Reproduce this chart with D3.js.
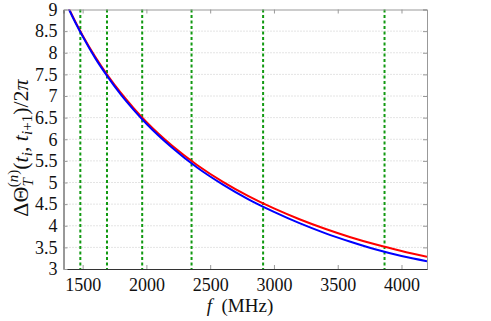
<!DOCTYPE html>
<html>
<head>
<meta charset="utf-8">
<script src="https://cdn.jsdelivr.net/npm/d3@7"></script>
<style>
  body { margin: 0; background: #fff; }
  text { font-family: Liberation Serif, Times New Roman, DejaVu Serif, serif; }
  .grid line { stroke: #c8c8c8; stroke-dasharray: 1,2; }
</style>
</head>
<body>
<svg id="chart"></svg>
<script>
// frequencies (MHz) sampled along the curves
var freqs = [1380, 1400, 1500, 1600, 1700, 1800, 1900, 2000, 2200, 2400, 2600, 2800, 3000, 3200, 3400, 3600, 3800, 4000, 4200];
var redVals = [9.10, 8.975, 8.40, 7.90, 7.46, 7.07, 6.72, 6.40, 5.855, 5.40, 5.015, 4.685, 4.40, 4.15, 3.93, 3.735, 3.565, 3.415, 3.28];
var blueVals = [9.09, 8.96, 8.38, 7.87, 7.43, 7.03, 6.68, 6.36, 5.81, 5.34, 4.95, 4.61, 4.32, 4.06, 3.83, 3.63, 3.45, 3.30, 3.18];
// vertical markers (MHz)
var markers = [1482, 1691, 1967, 2354, 2915, 3867];
var xTicks = [1500, 2000, 2500, 3000, 3500, 4000];
var yTicks = [3, 3.5, 4, 4.5, 5, 5.5, 6, 6.5, 7, 7.5, 8, 8.5, 9];

var W = 491, H = 321;
var margin = {top: 9.5, right: 64, bottom: 52, left: 63.5},
    width = W - margin.left - margin.right,
    height = H - margin.top - margin.bottom;

var svg = d3.select("#chart").attr("width", W).attr("height", H);

var x = d3.scaleLinear().domain([1350, 4200]).range([0, width]);
var y = d3.scaleLinear().domain([3, 9]).range([height, 0]);

var g = svg.append("g")
    .attr("transform", "translate(" + margin.left + "," + margin.top + ")");

g.append("clipPath").attr("id", "clip")
  .append("rect").attr("width", width).attr("height", height);

// horizontal grid
g.append("g").attr("class", "grid")
    .selectAll("line").data(yTicks.slice(1, -1)).enter()
  .append("line")
    .attr("x1", 0).attr("x2", width)
    .attr("y1", function(d) { return y(d); })
    .attr("y2", function(d) { return y(d); });

// green markers
g.append("g").selectAll("line").data(markers).enter()
  .append("line")
    .attr("x1", function(d) { return x(d); })
    .attr("x2", function(d) { return x(d); })
    .attr("y1", 0).attr("y2", height)
    .attr("stroke", "#119911")
    .attr("stroke-width", 2)
    .attr("stroke-dasharray", "3,2.5");

var line = d3.line()
    .x(function(d) { return x(d[0]); })
    .y(function(d) { return y(d[1]); })
    .curve(d3.curveMonotoneX);

g.append("path")
    .datum(freqs.map(function(f, i) { return [f, redVals[i]]; }))
    .attr("clip-path", "url(#clip)")
    .attr("fill", "none").attr("stroke", "#ff0000").attr("stroke-width", 2)
    .attr("d", line);

g.append("path")
    .datum(freqs.map(function(f, i) { return [f, blueVals[i]]; }))
    .attr("clip-path", "url(#clip)")
    .attr("fill", "none").attr("stroke", "#0000ff").attr("stroke-width", 2)
    .attr("d", line);

// mirrored ticks on top and right
var topAxis = d3.axisTop(x).tickValues(xTicks).tickSize(-4).tickFormat("");
var rightAxis = d3.axisRight(y).tickValues(yTicks).tickSize(-4).tickFormat("");
g.append("g").call(topAxis)
    .call(function(a) { a.selectAll("line, path").attr("stroke", "#999"); });
g.append("g").attr("transform", "translate(" + width + ",0)").call(rightAxis)
    .call(function(a) { a.selectAll("line, path").attr("stroke", "#999"); });

var xAxis = d3.axisBottom(x).tickValues(xTicks).tickSize(-4).tickSizeOuter(0).tickPadding(9)
    .tickFormat(d3.format("d"));
var yAxis = d3.axisLeft(y).tickValues(yTicks).tickSize(-4).tickSizeOuter(0).tickPadding(6)
    .tickFormat(function(d) { return d; });

g.append("g").attr("transform", "translate(0," + height + ")").call(xAxis)
    .attr("font-family", null)
    .call(function(a) {
      a.selectAll(".tick line").attr("stroke", "#999");
      a.select(".domain").attr("stroke", "#333");
      a.selectAll("text").attr("font-size", 18).attr("fill", "#111");
    });
g.append("g").call(yAxis)
    .attr("font-family", null)
    .call(function(a) {
      a.selectAll(".tick line").attr("stroke", "#999");
      a.select(".domain").attr("stroke", "#333");
      a.selectAll("text").attr("font-size", 18).attr("fill", "#111");
    });

// x label
var xl = svg.append("text")
    .attr("x", 240)
    .attr("y", 312)
    .attr("text-anchor", "middle")
    .attr("font-size", 19).attr("fill", "#111");
xl.append("tspan").attr("font-style", "italic").text("f");
xl.append("tspan").text("\u2002(MHz)");

// y label
var yl = svg.append("text")
    .attr("transform", "translate(28,148) rotate(-90)")
    .attr("text-anchor", "middle")
    .attr("font-size", 22).attr("fill", "#111");
yl.append("tspan").text("\u0394\u0398");
yl.append("tspan").attr("font-size", 15).attr("font-style", "italic").attr("dy", 5).text("T");
yl.append("tspan").attr("font-size", 15).attr("dx", -9).attr("dy", -15).text("(");
yl.append("tspan").attr("font-size", 15).attr("font-style", "italic").text("n");
yl.append("tspan").attr("font-size", 15).text(")");
yl.append("tspan").attr("dy", 10).text("(");
yl.append("tspan").attr("font-style", "italic").text("t");
yl.append("tspan").attr("font-size", 15).attr("font-style", "italic").attr("dy", 4).text("i");
yl.append("tspan").attr("dy", -4).text(", ");
yl.append("tspan").attr("font-style", "italic").text("t");
yl.append("tspan").attr("font-size", 15).attr("dy", 4).html("<tspan font-style='italic'>i</tspan>+1");
yl.append("tspan").attr("dy", -4).text(")/2");
yl.append("tspan").attr("font-style", "italic").text("\u03c0");
</script>
</body>
</html>
